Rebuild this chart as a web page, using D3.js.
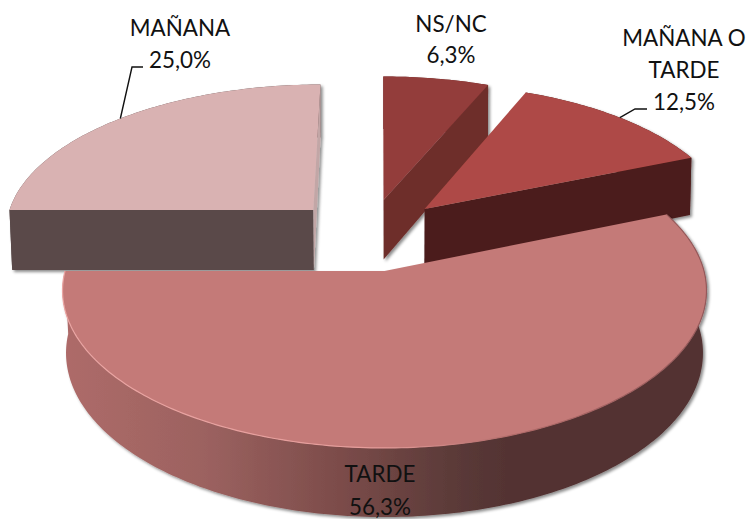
<!DOCTYPE html>
<html><head><meta charset="utf-8">
<script src="https://cdnjs.cloudflare.com/ajax/libs/d3/7.8.5/d3.min.js"></script>
<style>html,body{margin:0;padding:0;background:#fff}svg{display:block}text{font-family:Lato,"Open Sans",sans-serif;font-size:22.4px;fill:#111}</style>
</head><body>
<script>
// --- data (drawn back to front, clockwise from 9 o'clock)
const categories = ["MAÑANA", "NS/NC", "MAÑANA O TARDE", "TARDE"];
const values = [25.0, 6.3, 12.5, 56.3];
const labelLines = [["MAÑANA", "25,0%"], ["NS/NC", "6,3%"], ["MAÑANA O", "TARDE", "12,5%"], ["TARDE", "56,3%"]];

// --- styles & layout
const topFill = ["#d9b2b2", "#933c3a", "#ae4a46", "#c47a78"];
const cutFill = [["#5a4a4a", "#c2a6a6"], ["#6e2e2c", "#6e2e2c"], ["#4c1c1b", "#4c1c1b"], ["#523232", "#523232"]];
const explode = [[-0.234, -0.414], [-0.003, -0.486], [0.132, -0.421], [0, 0]];
const labelX = [180, 451, 684, 380];
const labelY = [[36, 68], [32, 63], [46, 78, 110], [482, 515]];
const leader = [[[132, 67], [143, 67]], null, [[635, 109], [647, 109]], null];

const W = 749, H = 519;
const svg = d3.select("body").append("svg").attr("width", W).attr("height", H);
const defs = svg.append("defs");

const f = defs.append("filter").attr("id", "sh").attr("filterUnits", "userSpaceOnUse")
  .attr("x", 0).attr("y", 0).attr("width", W).attr("height", H);
f.append("feDropShadow").attr("dx", 2).attr("dy", 2).attr("stdDeviation", 1.6)
  .attr("flood-color", "#000").attr("flood-opacity", 0.45);

const wallGrad = defs.append("linearGradient").attr("id", "wall").attr("gradientUnits", "userSpaceOnUse")
  .attr("x1", 62).attr("x2", 706).attr("y1", 0).attr("y2", 0);
[[0, "#ae6b69"], [0.22, "#9c6260"], [0.43, "#7c4c4a"], [0.6, "#5c3b39"], [0.7, "#523232"], [1, "#523232"]]
  .forEach(s => wallGrad.append("stop").attr("offset", s[0]).attr("stop-color", s[1]));
const rimGrad = defs.append("linearGradient").attr("id", "rim").attr("gradientUnits", "userSpaceOnUse")
  .attr("x1", 62).attr("x2", 706).attr("y1", 0).attr("y2", 0);
[[0, "#eaa5a3"], [0.5, "#e59c9a"], [0.7, "#b06a68"], [1, "#94595a"]]
  .forEach(s => rimGrad.append("stop").attr("offset", s[0]).attr("stop-color", s[1]));

// perspective projection of the pie's unit circle (top and bottom planes)
const CX = 384.5, SX = 319.5;
function projTop([u, v]) {
  const w = 1 - 0.124 * v;
  return [CX + SX * u / w, (271 + 121.4 * v) / w];
}
function projBot([u, v]) {
  const w = 1 - 0.1167 * v;
  return [CX + 0.99 * SX * u / w, (333.9 + 122.8 * v) / w];
}
const pie = d3.pie().sort(null).startAngle(-Math.PI / 2).endAngle(Math.PI * 1.5);
const arcs = pie(values);
const unit = (a, off) => [off[0] + Math.sin(a), off[1] - Math.cos(a)];
const line = d3.line();
const poly = pts => line(pts) + "Z";
const area2 = pts => d3.polygonArea(pts);

arcs.forEach((d, i) => {
  const off = explode[i];
  const n = Math.max(8, Math.round((d.endAngle - d.startAngle) * 60));
  const angs = d3.range(n + 1).map(k => d.startAngle + (d.endAngle - d.startAngle) * k / n);
  const rimU = angs.map(a => unit(a, off));
  const rimT = rimU.map(projTop), rimB = rimU.map(projBot);
  const apexT = projTop(off), apexB = projBot(off);
  const midT = projTop(unit((d.startAngle + d.endAngle) / 2, off));
  const g = svg.append("g").attr("filter", "url(#sh)");

  // outer wall
  g.append("path").attr("d", poly(rimT.concat(rimB.slice().reverse())))
    .attr("fill", i === 3 ? "url(#wall)" : cutFill[i][0]);

  // cut faces, only those facing the viewer
  [rimU[0], rimU[n]].forEach((p, k) => {
    const A = apexT, B = projTop(p), Ab = apexB, Bb = projBot(p);
    const visible = area2([A, B, Bb, Ab]) * area2([A, B, midT]) < 0;
    if (visible) g.append("path").attr("d", poly([A, B, Bb, Ab])).attr("fill", cutFill[i][k]);
  });

  // top face
  g.append("path").attr("d", poly([apexT].concat(rimT))).attr("fill", topFill[i]);
  if (i === 3) {
    g.append("path").attr("d", line(rimT)).attr("fill", "none")
      .attr("stroke", "url(#rim)").attr("stroke-width", 1.2);
  }

  // leader lines
  if (leader[i]) {
    svg.append("path").attr("d", line([midT].concat(leader[i])))
      .attr("fill", "none").attr("stroke", "#111").attr("stroke-width", 1.4);
  }
});

// labels
labelLines.forEach((lines, i) => {
  lines.forEach((t, j) => {
    svg.append("text").attr("x", labelX[i]).attr("y", labelY[i][j])
      .attr("text-anchor", "middle").text(t);
  });
});
</script>
</body></html>
